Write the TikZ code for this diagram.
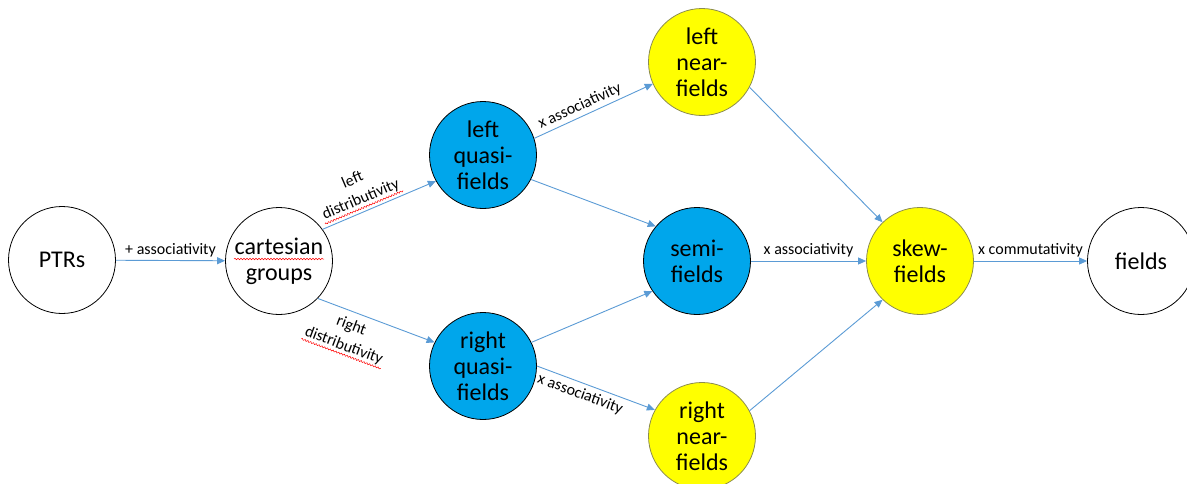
\documentclass[tikz,border=0pt]{standalone}
\usepackage{fontspec}
\setmainfont{Carlito}
\usetikzlibrary{arrows.meta,decorations.pathmorphing}
\definecolor{AlgBlue}{HTML}{00A6EB}
\definecolor{AlgYellow}{HTML}{FFFF00}
\definecolor{AlgArrow}{HTML}{5B9BD5}
\definecolor{AlgRim}{HTML}{8C8C50}

\begin{document}
\begin{tikzpicture}[x=1pt,y=-1pt,
  alg/.style={circle,draw=black,line width=0.8pt,minimum size=107pt,inner sep=0pt,
    align=center,font=\fontsize{24}{26}\selectfont},
  plainalg/.style={alg,fill=white},
  quasi/.style={alg,fill=AlgBlue},
  near/.style={alg,fill=AlgYellow,draw=AlgRim},
  arr/.style={-{Triangle[length=8pt,width=7pt]},line width=0.9pt,draw=AlgArrow},
  lbl/.style={font=\fontsize{16}{21}\selectfont,align=center,inner sep=1pt},
  spell/.style={draw=red,line width=0.5pt,decorate,
    decoration={snake,amplitude=0.8pt,segment length=3pt}}
]
\useasboundingbox (0,0) rectangle (1187,483);
% algebras
\node[plainalg] (ptrs) at (62,260) {PTRs};
\node[plainalg] (cart) at (279,261) {cartesian\\groups};
\node[quasi] (lq) at (483,155) {left\\quasi-\\fields};
\node[quasi] (rq) at (483,366) {right\\quasi-\\fields};
\node[quasi] (semi) at (697,261) {semi-\\fields};
\node[near] (ln) at (702,62) {left\\near-\\fields};
\node[near] (rn) at (702,436) {right\\near-\\fields};
\node[near] (skew) at (920,261) {skew-\\fields};
\node[plainalg] (fields) at (1141,261) {fields};
\draw[spell] ([xshift=-45pt,yshift=2pt]cart.center) -- ++(90,0);
% implications
\draw[arr] (ptrs) -- node[lbl,above=2pt] {+ associativity} (cart);
\draw[arr] (cart.36) -- node[lbl,sloped,above=4pt,pos=0.38] (ldist) {left\\distributivity} (lq.209);
\draw[spell] (ldist.south west) -- (ldist.south east);
\draw[arr] (cart.-44) -- node[lbl,sloped,below=6pt,pos=0.33] (rdist) {right\\distributivity} (rq.154);
\draw[spell] (rdist.south west) -- (rdist.south east);
\draw[arr] (lq.18) -- node[lbl,sloped,above=2pt,pos=0.42] {x associativity} (ln.204);
\draw[arr] (lq.-27) -- (semi.140);
\draw[arr] (rq.26) -- (semi.214);
\draw[arr] (rq.0) -- node[lbl,sloped,below=3pt,pos=0.4] {x associativity} (rn.151);
\draw[arr] (semi) -- node[lbl,above=2pt] {x associativity} (skew);
\draw[arr] (ln.-28) -- (skew.134);
\draw[arr] (rn.28) -- (skew.226);
\draw[arr] (skew) -- node[lbl,above=2pt] {x commutativity} (fields);
\end{tikzpicture}
\end{document}
